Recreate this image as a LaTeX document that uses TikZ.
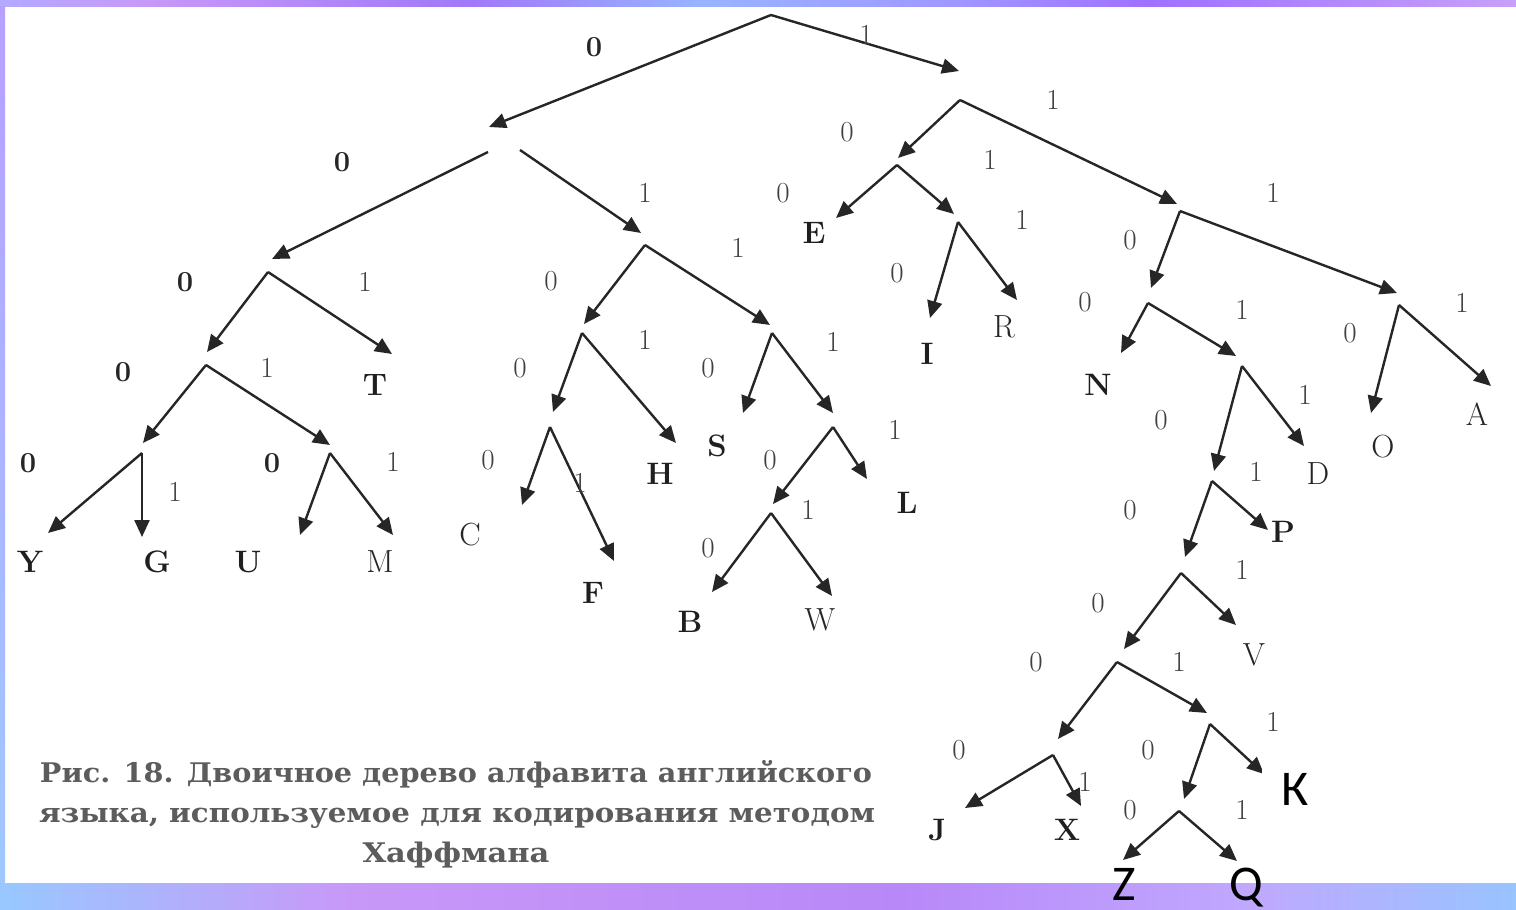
\documentclass[tikz,border=0pt]{standalone}
\usepackage{fontspec}
\usepackage{graphicx}
\newfontfamily\capfont{DejaVu Serif}
\newfontfamily\addfont{Carlito}
\usetikzlibrary{arrows.meta}

% frame colours
\definecolor{fA}{HTML}{B2AAFF}
\definecolor{fB}{HTML}{C898F8}
\definecolor{fC}{HTML}{A078F8}
\definecolor{fD}{HTML}{98B4FF}
\definecolor{fE}{HTML}{A098FF}
\definecolor{fF}{HTML}{A070FF}
\definecolor{fG}{HTML}{C8A0F8}
\definecolor{lTop}{HTML}{B8A0FF}
\definecolor{lBot}{HTML}{A0C8FF}
\definecolor{bA}{HTML}{98C8FF}
\definecolor{bB}{HTML}{C898F8}
\definecolor{bC}{HTML}{B888F8}
\definecolor{bD}{HTML}{C0A8FF}
\definecolor{bE}{HTML}{98C4FF}

\begin{document}
\begin{tikzpicture}[x=1pt,y=-1pt,
  edge/.style={draw=black!85, line width=2.4pt, -{Triangle[length=17pt,width=15pt]}},
  bit/.style={font=\fontsize{29}{32}\selectfont, text=black!75, inner sep=0pt},
  bitb/.style={font=\fontsize{29}{32}\selectfont\bfseries, text=black!85, inner sep=0pt},
  leaf/.style={font=\fontsize{31}{34}\selectfont\bfseries, text=black!88, inner sep=0pt},
  leafr/.style={font=\fontsize{32}{34}\selectfont, text=black!85, inner sep=0pt},
  added/.style={font=\addfont\fontsize{50}{56}\selectfont, text=black, inner sep=0pt},
  captext/.style={font=\capfont\bfseries\fontsize{27}{30}\selectfont, text=black!64, inner sep=0pt, anchor=base},
]
\useasboundingbox (0,0) rectangle (1516,910);
\fill[white] (0,0) rectangle (1516,910);

% ---- gradient frame ----
\shade[left color=fA, right color=fB] (0,0) rectangle (150,6);
\shade[left color=fB, right color=fC] (150,0) rectangle (470,6);
\shade[left color=fC, right color=fD] (470,0) rectangle (700,6);
\shade[left color=fD, right color=fE] (700,0) rectangle (950,6);
\shade[left color=fE, right color=fF] (950,0) rectangle (1150,6);
\shade[left color=fF, right color=fG] (1150,0) rectangle (1516,6);
\shade[top color=lTop, bottom color=lBot] (0,6) rectangle (5,883);
\shade[left color=bA, right color=bB] (0,883) rectangle (350,910);
\shade[left color=bB, right color=bC] (350,883) rectangle (900,910);
\shade[left color=bC, right color=bD] (900,883) rectangle (1250,910);
\shade[left color=bD, right color=bE] (1250,883) rectangle (1516,910);

% ---- inner nodes: arrival point (t...) and branching point (o...) ----
\coordinate (oRoot) at (771,15);
\coordinate (tL) at (489,127);   \coordinate (oLa) at (488,152); \coordinate (oLb) at (520,150);
\coordinate (tR) at (959,71);    \coordinate (oR) at (960,100);
\coordinate (tLL) at (272,259);  \coordinate (oLL) at (268,272);
\coordinate (tLR) at (641,233);  \coordinate (oLR) at (645,245);
\coordinate (tLLL) at (207,352); \coordinate (oLLL) at (206,365);
\coordinate (tLLLL) at (143,443);\coordinate (oLLLL) at (142,453);
\coordinate (tLLLR) at (330,445);\coordinate (oLLLR) at (330,453);
\coordinate (tLRL) at (584,324); \coordinate (oLRL) at (582,333);
\coordinate (tLRR) at (770,325); \coordinate (oLRR) at (772,333);
\coordinate (tLRLL) at (553,412);\coordinate (oLRLL) at (550,427);
\coordinate (tLRRR) at (833,413);\coordinate (oLRRR) at (833,427);
\coordinate (tLRRRL) at (773,504);\coordinate (oLRRRL) at (771,513);
\coordinate (tRL) at (898,158);  \coordinate (oRL) at (897,165);
\coordinate (tRR) at (1177,204); \coordinate (oRR) at (1180,211);
\coordinate (tRLR) at (954,214); \coordinate (oRLR) at (958,222);
\coordinate (tRRL) at (1151,288);\coordinate (oRRL) at (1148,303);
\coordinate (tRRR) at (1397,293);\coordinate (oRRR) at (1399,305);
\coordinate (tRRLR) at (1236,356);\coordinate (oRRLR) at (1242,366);
\coordinate (tN5) at (1214,471); \coordinate (oN5) at (1212,481);
\coordinate (tN6) at (1185,557); \coordinate (oN6) at (1181,573);
\coordinate (tN7) at (1124,649); \coordinate (oN7) at (1117,662);
\coordinate (tN8a) at (1058,739);\coordinate (oN8a) at (1053,755);
\coordinate (tN8b) at (1207,713);\coordinate (oN8b) at (1210,724);
\coordinate (tN9) at (1184,799); \coordinate (oN9) at (1179,811);

% ---- leaf arrival points ----
\coordinate (aY) at (48,533);   \coordinate (aG) at (142,537);
\coordinate (aU) at (300,535);  \coordinate (aM) at (393,535);
\coordinate (aT) at (392,354);
\coordinate (aC) at (522,505);  \coordinate (aF) at (614,561);
\coordinate (aH) at (676,443);  \coordinate (aS) at (743,413);
\coordinate (aL) at (867,479);
\coordinate (aB) at (712,592);  \coordinate (aW) at (832,596);
\coordinate (aE) at (836,218);
\coordinate (aI) at (930,318);  \coordinate (aR) at (1017,300);
\coordinate (aN) at (1121,353); \coordinate (aD) at (1304,446);
\coordinate (aP) at (1268,530); \coordinate (aV) at (1236,625);
\coordinate (aO) at (1371,413); \coordinate (aA) at (1491,386);
\coordinate (aJ) at (965,808);  \coordinate (aX) at (1081,806);
\coordinate (aK) at (1264,774);
\coordinate (aZ) at (1123,860); \coordinate (aQ) at (1237,861);

% ---- edges ----
\draw[edge] (oRoot) -- (tL);
\draw[edge] (oRoot) -- (tR);
\draw[edge] (oLa) -- (tLL);
\draw[edge] (oLb) -- (tLR);
\draw[edge] (oLL) -- (tLLL);
\draw[edge] (oLL) -- (aT);
\draw[edge] (oLLL) -- (tLLLL);
\draw[edge] (oLLL) -- (tLLLR);
\draw[edge] (oLLLL) -- (aY);
\draw[edge] (oLLLL) -- (aG);
\draw[edge] (oLLLR) -- (aU);
\draw[edge] (oLLLR) -- (aM);
\draw[edge] (oLR) -- (tLRL);
\draw[edge] (oLR) -- (tLRR);
\draw[edge] (oLRL) -- (tLRLL);
\draw[edge] (oLRL) -- (aH);
\draw[edge] (oLRLL) -- (aC);
\draw[edge] (oLRLL) -- (aF);
\draw[edge] (oLRR) -- (aS);
\draw[edge] (oLRR) -- (tLRRR);
\draw[edge] (oLRRR) -- (tLRRRL);
\draw[edge] (oLRRR) -- (aL);
\draw[edge] (oLRRRL) -- (aB);
\draw[edge] (oLRRRL) -- (aW);
\draw[edge] (oR) -- (tRL);
\draw[edge] (oR) -- (tRR);
\draw[edge] (oRL) -- (aE);
\draw[edge] (oRL) -- (tRLR);
\draw[edge] (oRLR) -- (aI);
\draw[edge] (oRLR) -- (aR);
\draw[edge] (oRR) -- (tRRL);
\draw[edge] (oRR) -- (tRRR);
\draw[edge] (oRRL) -- (aN);
\draw[edge] (oRRL) -- (tRRLR);
\draw[edge] (oRRLR) -- (tN5);
\draw[edge] (oRRLR) -- (aD);
\draw[edge] (oN5) -- (tN6);
\draw[edge] (oN5) -- (aP);
\draw[edge] (oN6) -- (tN7);
\draw[edge] (oN6) -- (aV);
\draw[edge] (oN7) -- (tN8a);
\draw[edge] (oN7) -- (tN8b);
\draw[edge] (oN8a) -- (aJ);
\draw[edge] (oN8a) -- (aX);
\draw[edge] (oN8b) -- (tN9);
\draw[edge] (oN8b) -- (aK);
\draw[edge] (oN9) -- (aZ);
\draw[edge] (oN9) -- (aQ);
\draw[edge] (oRRR) -- (aO);
\draw[edge] (oRRR) -- (aA);

% ---- edge labels ----
\node[bitb] (b01) at (594,47) {0};
\node[bit]  (b02) at (866,35) {1};
\node[bitb] (b03) at (342,162) {0};
\node[bit]  (b04) at (645,193) {1};
\node[bit]  (b05) at (1053,100) {1};
\node[bit]  (b06) at (847,132) {0};
\node[bitb] (b07) at (185,282) {0};
\node[bit]  (b08) at (365,282) {1};
\node[bit]  (b09) at (551,281) {0};
\node[bit]  (b10) at (738,248) {1};
\node[bit]  (b11) at (783,193) {0};
\node[bit]  (b12) at (990,160) {1};
\node[bit]  (b13) at (1022,220) {1};
\node[bit]  (b14) at (897,273) {0};
\node[bit]  (b15) at (1273,193) {1};
\node[bit]  (b16) at (1130,240) {0};
\node[bitb] (b17) at (123,372) {0};
\node[bit]  (b18) at (267,368) {1};
\node[bit]  (b19) at (520,368) {0};
\node[bit]  (b20) at (645,340) {1};
\node[bit]  (b21) at (708,368) {0};
\node[bit]  (b22) at (833,342) {1};
\node[bit]  (b23) at (1085,302) {0};
\node[bit]  (b24) at (1242,310) {1};
\node[bit]  (b25) at (1350,333) {0};
\node[bit]  (b26) at (1462,303) {1};
\node[bitb] (b27) at (28,463) {0};
\node[bit]  (b28) at (175,492) {1};
\node[bitb] (b29) at (272,463) {0};
\node[bit]  (b30) at (393,462) {1};
\node[bit]  (b31) at (488,460) {0};
\node[bit]  (b32) at (580,483) {1};
\node[bit]  (b33) at (770,460) {0};
\node[bit]  (b34) at (808,510) {1};
\node[bit]  (b35) at (895,430) {1};
\node[bit]  (b36) at (1161,420) {0};
\node[bit]  (b37) at (1305,395) {1};
\node[bit]  (b38) at (1256,472) {1};
\node[bit]  (b39) at (1130,510) {0};
\node[bit]  (b40) at (708,548) {0};
\node[bit]  (b41) at (1242,570) {1};
\node[bit]  (b42) at (1098,603) {0};
\node[bit]  (b43) at (1036,662) {0};
\node[bit]  (b44) at (1179,662) {1};
\node[bit]  (b45) at (1273,722) {1};
\node[bit]  (b46) at (959,750) {0};
\node[bit]  (b47) at (1085,782) {1};
\node[bit]  (b48) at (1148,750) {0};
\node[bit]  (b49) at (1130,810) {0};
\node[bit]  (b50) at (1242,810) {1};

% ---- letters ----
\node[leaf]  (Y) at (30,562) {Y};
\node[leaf]  (G) at (157,562) {G};
\node[leaf]  (U) at (248,562) {U};
\node[leafr] (M) at (380,562) {M};
\node[leaf]  (T) at (375,385) {T};
\node[leafr] (C) at (470,535) {C};
\node[leaf]  (F) at (593,593) {F};
\node[leaf]  (H) at (660,474) {H};
\node[leaf]  (S) at (717,446) {S};
\node[leaf]  (B) at (690,622) {B};
\node[leafr] (W) at (820,620) {W};
\node[leaf]  (L) at (907,503) {L};
\node[leaf]  (E) at (814,233) {E};
\node[leaf]  (I) at (927,354) {I};
\node[leafr] (R) at (1004,327) {R};
\node[leaf]  (N) at (1098,385) {N};
\node[leafr] (D) at (1318,474) {D};
\node[leaf]  (P) at (1283,532) {P};
\node[leafr] (O) at (1383,447) {O};
\node[leafr] (A) at (1477,414) {A};
\node[leafr] (V) at (1254,655) {V};
\node[leaf]  (J) at (937,830) {J};
\node[leaf]  (X) at (1067,830) {X};

% ---- patched-in letters ----
\fill[white] (1262,748) rectangle (1330,812);
\node[added, anchor=base] (K) at (1295,805) {К};
\node[added, anchor=base] (Z) at (1124,900) {Z};
\node[added, anchor=base] (Q) at (1246,900) {Q};

% ---- caption ----
\node[captext] (cap1) at (456,782) {\resizebox{832pt}{\height}{Рис. 18. Двоичное дерево алфавита английского}};
\node[captext] (cap2) at (457,822) {\resizebox{836pt}{\height}{языка, используемое для кодирования методом}};
\node[captext] (cap3) at (456,862) {\resizebox{187pt}{\height}{Хаффмана}};
\end{tikzpicture}
\end{document}
